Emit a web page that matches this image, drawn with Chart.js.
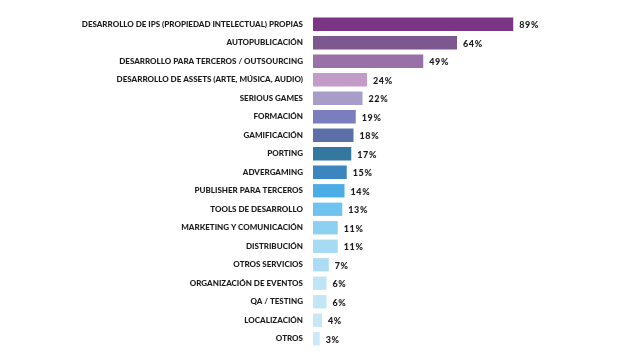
<!DOCTYPE html>
<html><head><meta charset="utf-8">
<script src="https://cdn.jsdelivr.net/npm/chart.js@4"></script>
<style>html,body{margin:0;padding:0;background:#fff}#w{width:640px;height:364px}</style>
</head><body><div id="w"><canvas id="c"></canvas></div>
<script>
const categories = ["DESARROLLO DE IPS (PROPIEDAD INTELECTUAL) PROPIAS","AUTOPUBLICACIÓN","DESARROLLO PARA TERCEROS / OUTSOURCING","DESARROLLO DE ASSETS (ARTE, MÚSICA, AUDIO)","SERIOUS GAMES","FORMACIÓN","GAMIFICACIÓN","PORTING","ADVERGAMING","PUBLISHER PARA TERCEROS","TOOLS DE DESARROLLO","MARKETING Y COMUNICACIÓN","DISTRIBUCIÓN","OTROS SERVICIOS","ORGANIZACIÓN DE EVENTOS","QA / TESTING","LOCALIZACIÓN","OTROS"];
const values = [89,64,49,24,22,19,18,17,15,14,13,11,11,7,6,6,4,3];
const barColors = ["#7B3585","#7D5790","#9A70A8","#C29BC8","#A69DC8","#7A7DBE","#5C6FA6","#35789F","#3B86BF","#4BADE6","#6EC4EF","#8DD0F1","#A7DBF4","#ACDCF3","#BFE4F6","#C3E6F7","#C6E7F7","#CBE9F8"];
const FONT = "Lato";
const valueLabels = {
  id:'valueLabels',
  afterDatasetsDraw(chart){
    const ctx = chart.ctx;
    const meta = chart.getDatasetMeta(0);
    ctx.save();
    ctx.font = "900 9px " + FONT;
    try { ctx.letterSpacing = "0.6px"; } catch(e) {}
    ctx.fillStyle = "#1a1a1a";
    ctx.textBaseline = "middle";
    ctx.textAlign = "left";
    meta.data.forEach((bar,i)=>{
      ctx.fillText(values[i] + "%", bar.x + 6, bar.y + 1);
    });
    ctx.restore();
  }
};
new Chart(document.getElementById('c'), {
  type:'bar',
  data:{labels:categories, datasets:[{data:values, backgroundColor:barColors, barPercentage:0.72, categoryPercentage:1}]},
  options:{
    indexAxis:'y', responsive:true, maintainAspectRatio:false, animation:false,
    layout:{padding:{top:15, bottom:16, left:0, right:102}},
    plugins:{legend:{display:false}, tooltip:{enabled:false}},
    scales:{
      x:{display:false, min:0, max:100},
      y:{
        grid:{display:false, drawTicks:false}, border:{display:false},
        ticks:{padding:10, color:"#1a1a1a", font:{family:FONT, size:8, weight:900}, autoSkip:false},
        afterFit(s){ s.width = 313; }
      }
    }
  },
  plugins:[valueLabels]
});
</script></body></html>
